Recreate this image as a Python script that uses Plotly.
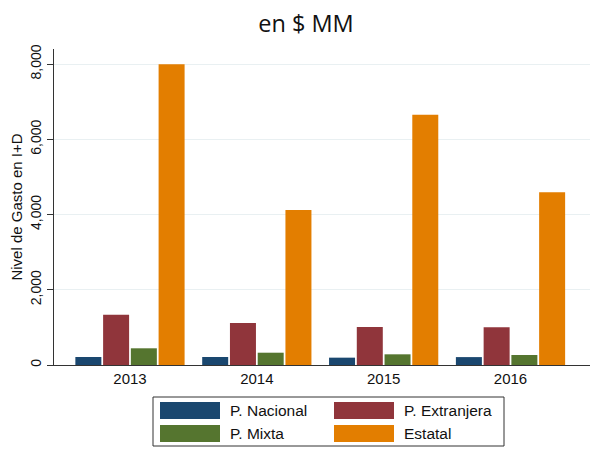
import plotly.graph_objects as go

years = ["2013", "2014", "2015", "2016"]
p_nacional = [213, 213, 195, 210]
p_extranjera = [1337, 1117, 1010, 1002]
p_mixta = [444, 327, 284, 266]
estatal = [7995, 4120, 6650, 4590]

series_names = ["P. Nacional", "P. Extranjera", "P. Mixta", "Estatal"]
series_values = [p_nacional, p_extranjera, p_mixta, estatal]
colors = ["#1a476f", "#90353b", "#55752f", "#e37e00"]

y_ticks = [0, 2000, 4000, 6000, 8000]
x_pos = list(range(len(years)))

fig = go.Figure()
for name, vals, col in zip(series_names, series_values, colors):
    fig.add_trace(go.Bar(x=x_pos, y=vals, name=name, marker=dict(color=col, line=dict(width=0)),
                         showlegend=False))

font_main = "Liberation Sans, Arial, sans-serif"

# page body has an 8px margin; build the figure so it lands on the 598x449 window
OFF = 8
W, H = 598 - OFF, 449 - OFF
ML = 54 - OFF
MT = 49 - OFF
MB = (449 - OFF) - (365 - OFF)
MR = W - (596 - OFF)
PW = W - ML - MR
PH = H - MT - MB


def px(x):
    return (x - OFF - ML) / PW


def py(y):
    return (H - MB - (y - OFF)) / PH


shapes = []
annotations = []
# legend box
shapes.append(dict(type="rect", xref="paper", yref="paper", x0=px(153), x1=px(504), y0=py(397), y1=py(446),
                   line=dict(color="#333333", width=1), fillcolor="white", layer="above"))
legend_items = [(0, 0), (1, 0), (0, 1), (1, 1)]
col_x = [160, 334]
row_y = [402, 425]
for (c, r), name, color in zip(legend_items, series_names, colors):
    x0 = col_x[c]
    y0 = row_y[r]
    shapes.append(dict(type="rect", xref="paper", yref="paper", x0=px(x0), x1=px(x0 + 60), y0=py(y0),
                       y1=py(y0 + 17), line=dict(width=0), fillcolor=color, layer="above"))
    annotations.append(dict(xref="paper", yref="paper", x=px(x0 + 68), y=py(y0 + 8.5), text=name,
                            showarrow=False, xanchor="left", yanchor="middle",
                            font=dict(family=font_main, size=15.5, color="#111111")))

fig.update_layout(
    width=W, height=H,
    margin=dict(l=ML, r=MR, t=MT, b=MB, autoexpand=False),
    paper_bgcolor="white", plot_bgcolor="white",
    barmode="group", bargap=0.125, bargroupgap=0.063,
    title=dict(text="en $ MM", x=(306 - OFF) / W, xanchor="center", y=1 - (23.5 - OFF) / H, yanchor="middle",
               font=dict(family="Open Sans, Noto Sans, sans-serif", size=23.5, color="#111111")),
    shapes=shapes, annotations=annotations,
    xaxis=dict(range=[-0.599, 3.674], tickmode="array", tickvals=x_pos, ticktext=years, automargin=False,
               showline=True, linecolor="#333333", linewidth=1, ticks="", showgrid=False, zeroline=False,
               tickfont=dict(family=font_main, size=15, color="#111111")),
    yaxis=dict(range=[0, 8400], tickmode="array", tickvals=y_ticks, tickformat=",d", tickangle=-90,
               automargin=False,
               showline=True, linecolor="#333333", linewidth=1, ticks="outside", ticklen=6, tickcolor="#333333",
               showgrid=True, gridcolor="#e9f0f2", gridwidth=1, zeroline=False,
               tickfont=dict(family=font_main, size=14, color="#111111"),
               title=dict(text="Nivel de Gasto en I+D", font=dict(family=font_main, size=15, color="#111111"),
                          standoff=3)),
)

fig.write_html("out.html")
